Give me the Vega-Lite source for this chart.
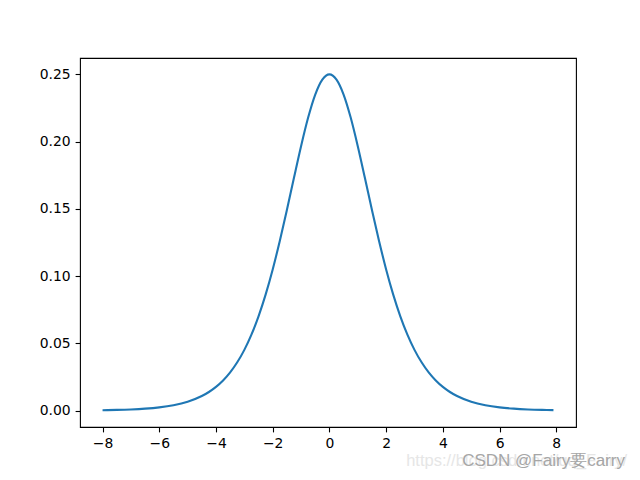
{
  "$schema": "https://vega.github.io/schema/vega-lite/v6.json",
  "width": 496,
  "height": 369,
  "autosize": {"type": "none"},
  "padding": {"left": 80, "top": 58, "right": 64, "bottom": 53},
  "background": "white",
  "config": {
    "view": {"stroke": "black", "strokeWidth": 1.1},
    "axis": {
      "grid": false,
      "domain": false,
      "tickColor": "black",
      "tickSize": 4.9,
      "tickWidth": 1.1,
      "labelColor": "black",
      "labelFont": "DejaVu Sans",
      "labelFontSize": 13.9,
      "labelPadding": 4.9,
      "title": null
    }
  },
  "layer": [
    {
      "data": {
        "values": [
          {"x": -8, "y": 0.000335},
          {"x": -7.5, "y": 0.000553},
          {"x": -7, "y": 0.000910},
          {"x": -6.5, "y": 0.001499},
          {"x": -6, "y": 0.002467},
          {"x": -5.5, "y": 0.004054},
          {"x": -5, "y": 0.006648},
          {"x": -4.5, "y": 0.010866},
          {"x": -4.25, "y": 0.013866},
          {"x": -4, "y": 0.017663},
          {"x": -3.75, "y": 0.022449},
          {"x": -3.5, "y": 0.028453},
          {"x": -3.25, "y": 0.035934},
          {"x": -3, "y": 0.045177},
          {"x": -2.75, "y": 0.056476},
          {"x": -2.5, "y": 0.070104},
          {"x": -2.25, "y": 0.086258},
          {"x": -2, "y": 0.104994},
          {"x": -1.75, "y": 0.12612},
          {"x": -1.5, "y": 0.14915},
          {"x": -1.25, "y": 0.17311},
          {"x": -1, "y": 0.196612},
          {"x": -0.75, "y": 0.21789},
          {"x": -0.5, "y": 0.235004},
          {"x": -0.25, "y": 0.24613},
          {"x": 0, "y": 0.25},
          {"x": 0.25, "y": 0.24613},
          {"x": 0.5, "y": 0.235004},
          {"x": 0.75, "y": 0.21789},
          {"x": 1, "y": 0.196612},
          {"x": 1.25, "y": 0.17311},
          {"x": 1.5, "y": 0.14915},
          {"x": 1.75, "y": 0.12612},
          {"x": 2, "y": 0.104994},
          {"x": 2.25, "y": 0.086258},
          {"x": 2.5, "y": 0.070104},
          {"x": 2.75, "y": 0.056476},
          {"x": 3, "y": 0.045177},
          {"x": 3.25, "y": 0.035934},
          {"x": 3.5, "y": 0.028453},
          {"x": 3.75, "y": 0.022449},
          {"x": 4, "y": 0.017663},
          {"x": 4.25, "y": 0.013866},
          {"x": 4.5, "y": 0.010866},
          {"x": 5, "y": 0.006648},
          {"x": 5.5, "y": 0.004054},
          {"x": 6, "y": 0.002467},
          {"x": 6.5, "y": 0.001499},
          {"x": 7, "y": 0.000910},
          {"x": 7.5, "y": 0.000553},
          {"x": 7.9, "y": 0.000370}
        ]
      },
      "mark": {"type": "line", "color": "#1f77b4", "strokeWidth": 2.1, "interpolate": "monotone"},
      "encoding": {
        "x": {
          "field": "x",
          "type": "quantitative",
          "scale": {"domain": [-8.795, 8.695], "nice": false, "zero": false},
          "axis": {"values": [-8, -6, -4, -2, 0, 2, 4, 6, 8]}
        },
        "y": {
          "field": "y",
          "type": "quantitative",
          "scale": {"domain": [-0.01215, 0.26215], "nice": false, "zero": false},
          "axis": {"values": [0, 0.05, 0.1, 0.15, 0.2, 0.25], "format": ".2f"}
        }
      }
    },
    {
      "data": {"values": [{"label": "https://blog.csdn.net/qq_Fairy/"}]},
      "mark": {"type": "text", "align": "right", "baseline": "middle", "font": "Liberation Sans", "fontSize": 16.5, "color": "#e6e6e6"},
      "encoding": {
        "x": {"datum": 10.5},
        "y": {"datum": -0.0377},
        "text": {"field": "label"}
      }
    },
    {
      "data": {"values": [{"label": "CSDN @Fairy要carry"}]},
      "mark": {"type": "text", "align": "right", "baseline": "middle", "font": "Liberation Sans", "fontSize": 17, "color": "#a6a6a6"},
      "encoding": {
        "x": {"datum": 10.42},
        "y": {"datum": -0.0374},
        "text": {"field": "label"}
      }
    }
  ]
}
